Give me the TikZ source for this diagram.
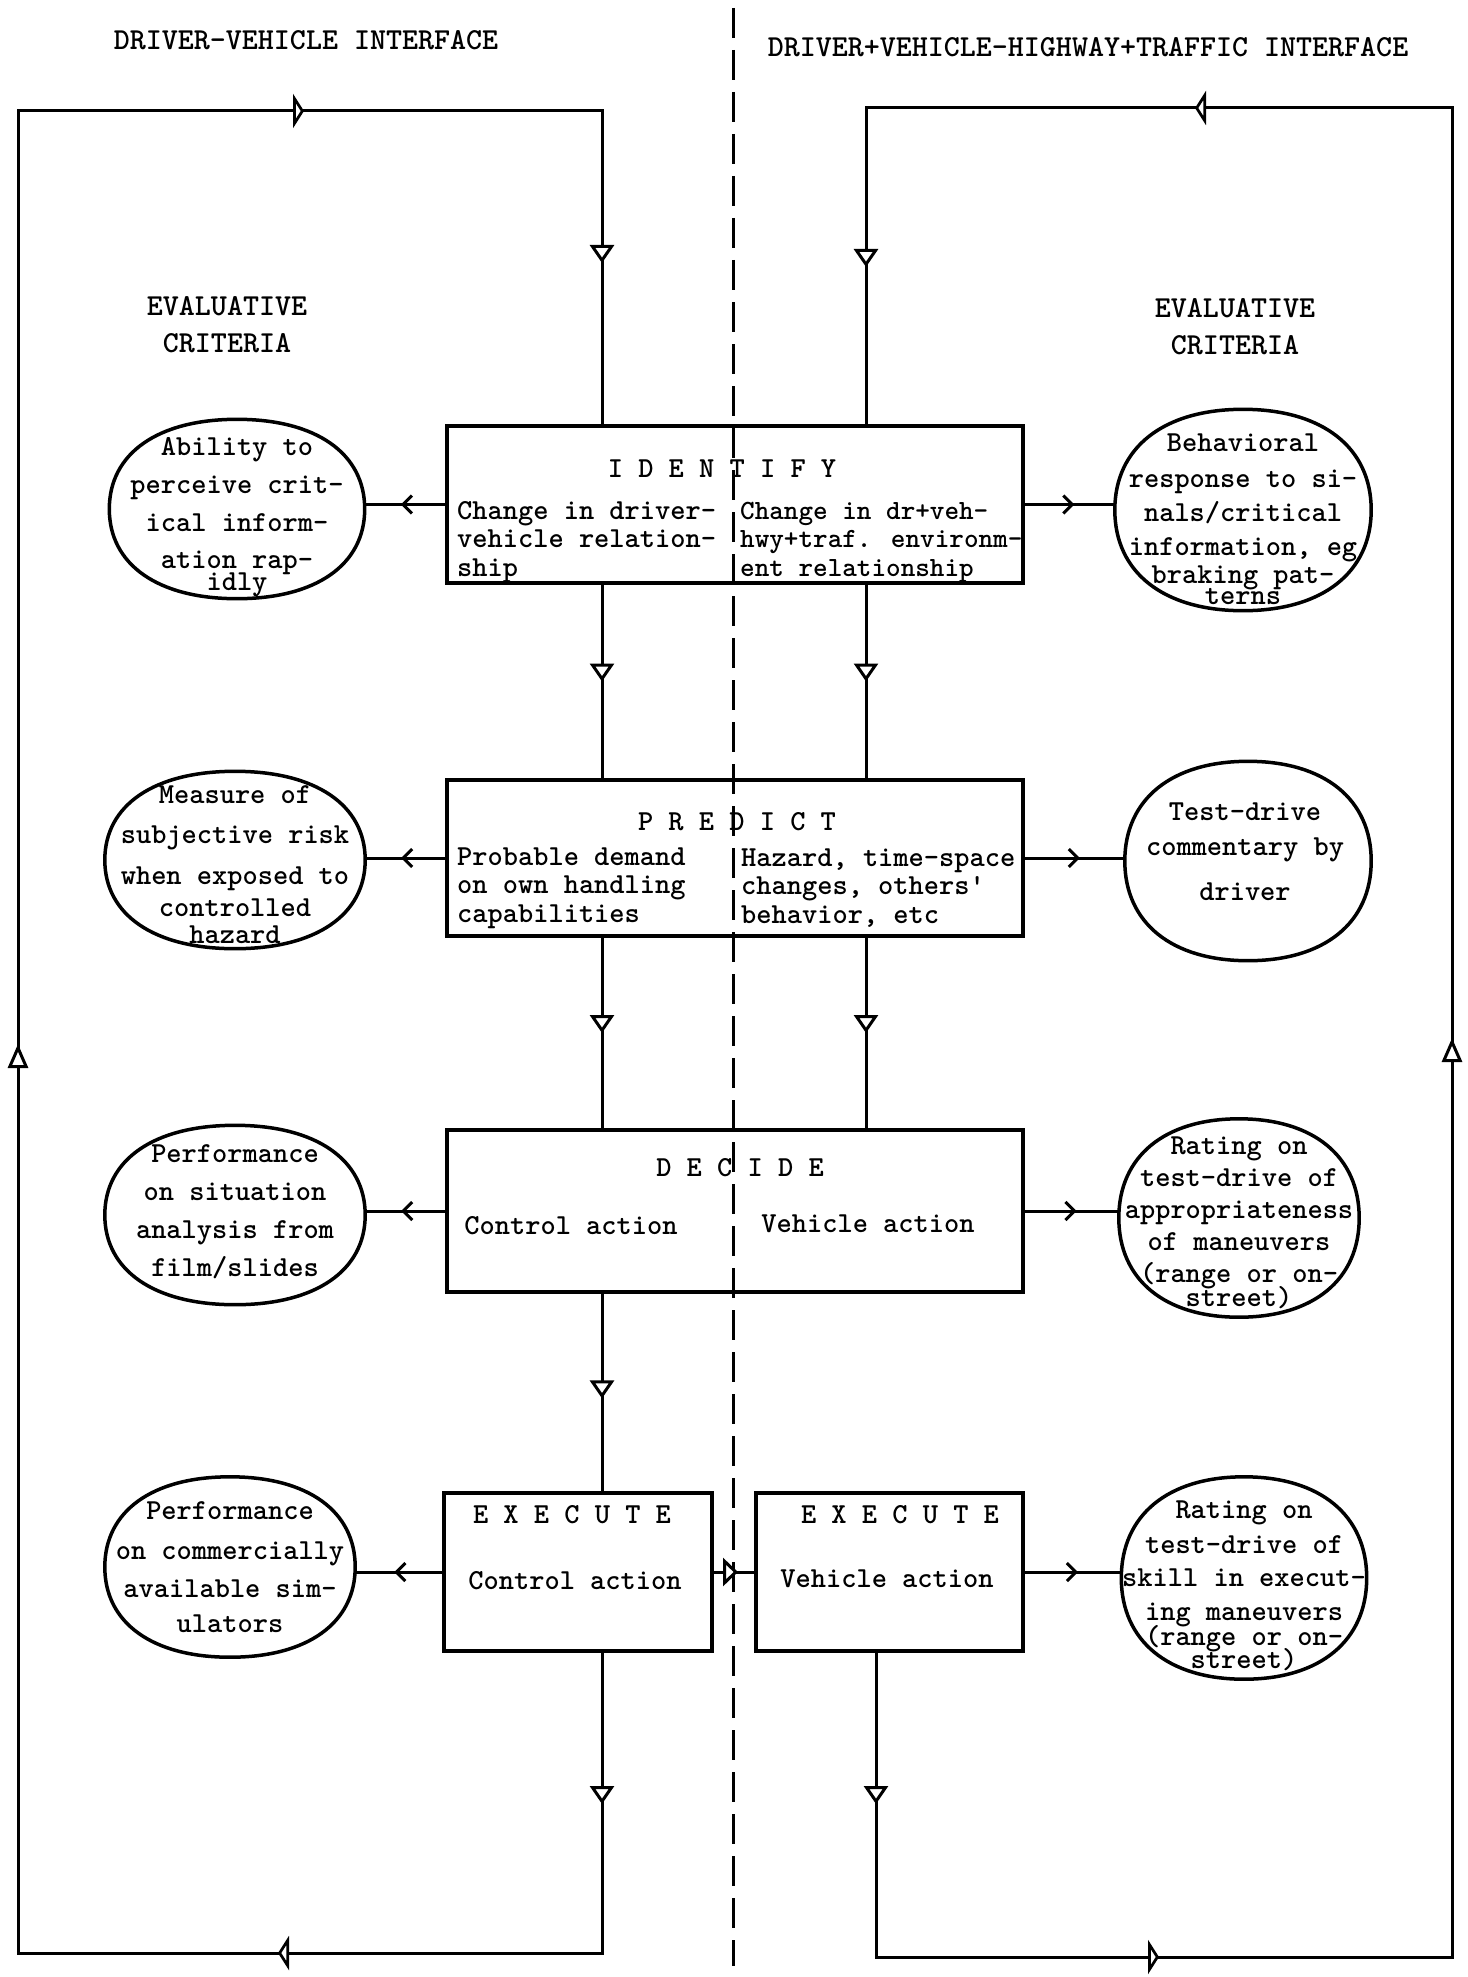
\documentclass[tikz,border=0pt]{standalone}
\usetikzlibrary{arrows.meta,decorations.markings,calc}
\newcommand\twfont{\fontsize{29}{32}\selectfont\ttfamily\bfseries}
\newcommand\twtight{\fontsize{29}{28.5}\selectfont\ttfamily\bfseries}
\newcommand\twnarrow{\fontsize{27.8}{28.5}\selectfont\ttfamily\bfseries}
\newcommand\twhead{\fontsize{30.5}{37}\selectfont\ttfamily\bfseries}
\tikzset{
  flow/.style={line width=3pt, line join=miter},
  stagebox/.style={draw, line width=4pt, rectangle, inner sep=0pt},
  critblob/.style={rectangle, inner sep=0pt},
  blobline/.style={line width=3.5pt},
  tw/.style={font=\twfont, inner sep=0pt, align=center},
  twblock/.style={font=\twtight, inner sep=0pt, align=left, anchor=west},
  twhd/.style={font=\twhead, inner sep=0pt, align=center},
  divider/.style={line width=3pt, dash pattern=on 30pt off 12pt},
  vtri/.tip={Triangle[fill=white, length=18pt, width=24pt]},
  htri/.tip={Triangle[fill=white, length=11pt, width=34pt]},
  stri/.tip={Triangle[fill=white, length=24pt, width=20pt]},
  xtri/.tip={Triangle[fill=white, length=15pt, width=28pt]},
  barb/.tip={Straight Barb[length=9pt, width=18pt]},
  midtip/.style 2 args={postaction={decorate, decoration={markings, mark=at position #1 with {\arrow{#2}}}}},
}
% full, rounded outline of an evaluative-criteria node
\newcommand\drawblob[1]{%
  \draw[blobline]
    (#1.north) .. controls ($(#1.north)!0.62!(#1.north east)$) and ($(#1.east)!0.62!(#1.north east)$) ..
    (#1.east) .. controls ($(#1.east)!0.62!(#1.south east)$) and ($(#1.south)!0.62!(#1.south east)$) ..
    (#1.south) .. controls ($(#1.south)!0.62!(#1.south west)$) and ($(#1.west)!0.62!(#1.south west)$) ..
    (#1.west) .. controls ($(#1.west)!0.62!(#1.north west)$) and ($(#1.north)!0.62!(#1.north west)$) ..
    (#1.north) -- cycle;}
\begin{document}
\begin{tikzpicture}[x=1pt, y=-1pt]
\useasboundingbox (0,0) rectangle (1467,1977);

% headings
\node[twhd] (hdL) at (306,40) {DRIVER-VEHICLE INTERFACE};
\node[twhd] (hdR) at (1088,47) {DRIVER+VEHICLE-HIGHWAY+TRAFFIC INTERFACE};
\node[twhd] (evL) at (227,325) {EVALUATIVE\\CRITERIA};
\node[twhd] (evR) at (1235,327) {EVALUATIVE\\CRITERIA};

% interface divider
\coordinate (divTop) at (733,8);
\coordinate (divBot) at (733,1966);
\draw[divider] (divTop) -- (divBot);

% stage boxes
\node[stagebox, minimum width=576pt, minimum height=157pt] (ident) at (735,504.5) {};
\node[stagebox, minimum width=576pt, minimum height=156pt] (pred) at (735,858) {};
\node[stagebox, minimum width=576pt, minimum height=162pt] (dec) at (735,1211) {};
\node[stagebox, minimum width=268pt, minimum height=158pt] (execL) at (578,1572) {};
\node[stagebox, minimum width=267pt, minimum height=158pt] (execR) at (889.5,1572) {};

% stage box texts
\node[tw] (identT) at (722,469) {I D E N T I F Y};
\node[twblock] (identL) at (457,542) {Change in driver-\\vehicle relation-\\ship};
\node[twblock, font=\twnarrow] (identR) at (740,542) {Change in dr+veh-\\hwy+traf. environm-\\ent relationship};
\node[tw] (predT) at (737,822) {P R E D I C T};
\node[twblock] (predL) at (457,888) {Probable demand\\on own handling\\capabilities};
\node[twblock] (predR) at (741,888) {Hazard, time-space\\changes, others'\\behavior, etc};
\node[tw] (decT) at (740,1168) {D E C I D E};
\node[tw] (decL) at (571,1226) {Control action};
\node[tw] (decR) at (868,1224) {Vehicle action};
\node[tw] (exLT) at (572,1515) {E X E C U T E};
\node[tw] (exLC) at (575,1581) {Control action};
\node[tw] (exRT) at (900,1515) {E X E C U T E};
\node[tw] (exRC) at (887,1579) {Vehicle action};

% evaluative criteria (left)
\node[critblob, minimum width=255pt, minimum height=179pt] (abil) at (237,509) {};
\drawblob{abil}
\node[tw] (abilT) at (237,517) {Ability to\\[6pt]perceive crit-\\[6pt]ical inform-\\[5pt]ation rap-\\[-10pt]idly};
\node[critblob, minimum width=260pt, minimum height=177pt] (meas) at (235,860) {};
\drawblob{meas}
\node[tw] (measT) at (235,865) {Measure of\\[8pt]subjective risk\\[9pt]when exposed to\\controlled\\[-5pt]hazard};
\node[critblob, minimum width=260pt, minimum height=179pt] (perfS) at (235,1215) {};
\drawblob{perfS}
\node[tw] (perfST) at (235,1212) {Performance\\[6pt]on situation\\[6pt]analysis from\\[6pt]film/slides};
\node[critblob, minimum width=250pt, minimum height=180pt] (perfC) at (230,1567) {};
\drawblob{perfC}
\node[tw] (perfCT) at (perfC) {Performance\\[8pt]on commercially\\[6pt]available sim-\\[3pt]ulators};

% evaluative criteria (right)
\node[critblob, minimum width=256pt, minimum height=201pt] (behav) at (1243,510) {};
\drawblob{behav}
\node[tw] (behavT) at (1243,519) {Behavioral\\[4pt]response to si-\\[2pt]nals/critical\\[2pt]information, eg\\[-4pt]braking pat-\\[-11pt]terns};
\node[critblob, minimum width=246pt, minimum height=199pt] (testd) at (1248,861) {};
\drawblob{testd}
\node[tw] (testdT) at (1245,852) {Test-drive\\[3pt]commentary by\\[13pt]driver};
\node[critblob, minimum width=240pt, minimum height=198pt] (rateA) at (1239,1218) {};
\drawblob{rateA}
\node[tw] (rateAT) at (1239,1223) {Rating on\\test-drive of\\appropriateness\\of maneuvers\\(range or on-\\[-8pt]street)};
\node[critblob, minimum width=245pt, minimum height=202pt] (rateS) at (1244,1578) {};
\drawblob{rateS}
\node[tw] (rateST) at (1244,1586) {Rating on\\[3pt]test-drive of\\[1pt]skill in execut-\\[2pt]ing maneuvers\\[-7pt](range or on-\\[-9pt]street)};

% loop corners and column lines
\coordinate (colL) at (602,0);
\coordinate (colR) at (866,0);
\coordinate (colRb) at (876,0);
\coordinate (L1) at (18,111);
\coordinate (L2) at (602,111);
\coordinate (L3) at (18,1953);
\coordinate (L4) at (602,1953);
\coordinate (R1) at (866,108);
\coordinate (R2) at (1452,108);
\coordinate (R3) at (876,1957);
\coordinate (R4) at (1452,1957);

% driver-vehicle feedback loop
\draw[flow, postaction={decorate, decoration={markings,
    mark=at position 151pt with {\arrow{vtri}},
    mark=at position 624pt with {\arrow{htri}},
    mark=at position 1793pt with {\arrow{stri}},
    mark=at position 3012pt with {\arrow{htri}},
    mark=at position 3462pt with {\arrow{vtri}}}}]
  (execL.south -| colL) -- (L4) -- (L3) -- (L1) -- (L2) -- (ident.north -| colL);

% driver+vehicle / highway+traffic feedback loop
\draw[flow, postaction={decorate, decoration={markings,
    mark=at position 151pt with {\arrow{vtri}},
    mark=at position 587pt with {\arrow{htri}},
    mark=at position 1799pt with {\arrow{stri}},
    mark=at position 2986pt with {\arrow{htri}},
    mark=at position 3474pt with {\arrow{vtri}}}}]
  (execR.south -| colRb) -- (R3) -- (R4) -- (R2) -- (R1) -- (ident.north -| colR);

% flow between stages
\draw[flow, midtip={0.5}{vtri}] (ident.south -| colL) -- (pred.north -| colL);
\draw[flow, midtip={0.5}{vtri}] (pred.south -| colL) -- (dec.north -| colL);
\draw[flow, midtip={0.53}{vtri}] (dec.south -| colL) -- (execL.north -| colL);
\draw[flow, midtip={0.5}{vtri}] (ident.south -| colR) -- (pred.north -| colR);
\draw[flow, midtip={0.5}{vtri}] (pred.south -| colR) -- (dec.north -| colR);
\draw[flow, midtip={0.6}{xtri}] (execL.east) -- (execR.west);

% stages to evaluative criteria
\draw[flow, midtip={0.55}{barb}] (ident.west) -- (ident.west -| abil.east);
\draw[flow, midtip={0.55}{barb}] (pred.west) -- (pred.west -| meas.east);
\draw[flow, midtip={0.55}{barb}] (dec.west) -- (dec.west -| perfS.east);
\draw[flow, midtip={0.55}{barb}] (execL.west) -- (execL.west -| perfC.east);
\draw[flow, midtip={0.55}{barb}] (ident.east) -- (ident.east -| behav.west);
\draw[flow, midtip={0.55}{barb}] (pred.east) -- (pred.east -| testd.west);
\draw[flow, midtip={0.55}{barb}] (dec.east) -- (dec.east -| rateA.west);
\draw[flow, midtip={0.55}{barb}] (execR.east) -- (execR.east -| rateS.west);
\end{tikzpicture}
\end{document}
